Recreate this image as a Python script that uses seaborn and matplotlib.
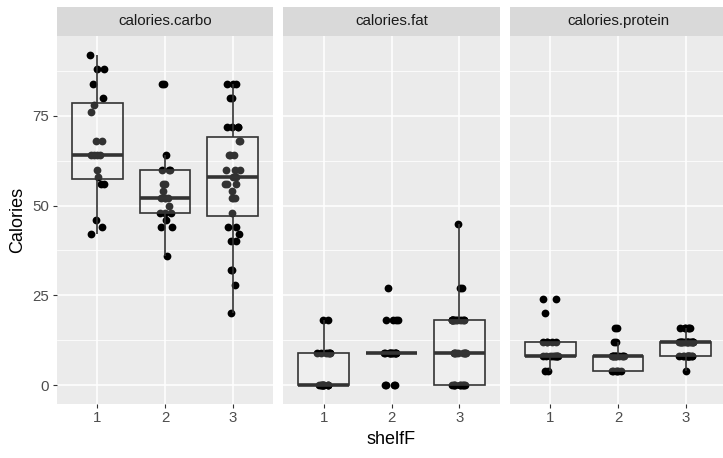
import numpy as np
import pandas as pd
import seaborn as sns
import matplotlib.pyplot as plt
from matplotlib.ticker import FixedLocator

np.random.seed(7)

# ---- data ----
shelves = ["1", "2", "3"]
variables = ["calories.carbo", "calories.fat", "calories.protein"]

carbo_s1 = [42, 44, 46, 56, 56, 58, 60, 64, 64, 64, 64, 68, 68, 76, 78, 80, 84, 88, 88, 92]
carbo_s2 = [36, 44, 44, 46, 48, 48, 48, 50, 52, 52, 52, 52, 54, 56, 56, 60, 60, 60, 64, 84, 84]
carbo_s3 = [20, 28, 32, 32, 40, 40, 42, 44, 44, 48, 52, 52, 52, 54, 56, 56, 56, 58,
            58, 60, 60, 60, 64, 64, 64, 68, 68, 72, 72, 72, 72, 80, 80, 84, 84, 84]

fat_s1 = [0, 0, 0, 0, 0, 0, 0, 0, 0, 0, 0, 9, 9, 9, 9, 9, 9, 9, 18, 18]
fat_s2 = [0, 0, 0, 0, 9, 9, 9, 9, 9, 9, 9, 9, 9, 9, 9, 9, 18, 18, 18, 18, 27]
fat_s3 = [0, 0, 0, 0, 0, 0, 0, 0, 0, 0, 9, 9, 9, 9, 9, 9, 9, 9, 9, 9,
          18, 18, 18, 18, 18, 18, 18, 18, 18, 18, 18, 18, 18, 27, 27, 45]

protein_s1 = [4, 4, 8, 8, 8, 8, 8, 8, 8, 8, 8, 8, 12, 12, 12, 12, 12, 20, 24, 24]
protein_s2 = [4, 4, 4, 4, 4, 4, 8, 8, 8, 8, 8, 8, 8, 8, 8, 8, 8, 12, 12, 16, 16]
protein_s3 = [4, 8, 8, 8, 8, 8, 8, 8, 8, 8, 8, 8, 8, 12, 12, 12, 12, 12, 12, 12,
              12, 12, 12, 12, 12, 12, 12, 12, 12, 12, 16, 16, 16, 16, 16, 16]

y_ticks = [0, 25, 50, 75]
y_minor = [12.5, 37.5, 62.5, 87.5]

series = {
    "calories.carbo": [carbo_s1, carbo_s2, carbo_s3],
    "calories.fat": [fat_s1, fat_s2, fat_s3],
    "calories.protein": [protein_s1, protein_s2, protein_s3],
}
rows = []
for var in variables:
    for shelf, vals in zip(shelves, series[var]):
        for v in vals:
            rows.append({"variable": var, "shelfF": shelf, "Calories": v})
df = pd.DataFrame(rows)

# ---- layout ----
plt.rcParams["font.family"] = ["Liberation Sans", "DejaVu Sans"]
W, H = 723, 458
fig = plt.figure(figsize=(W / 100, H / 100), dpi=100)
fig.patch.set_facecolor("white")

p_left, p_w, p_gap = 56.7, 216.7, 9.8
p_top, p_bot = 35.5, 403.5
s_top = 7.0

for i, var in enumerate(variables):
    left = p_left + i * (p_w + p_gap)
    ax = fig.add_axes([left / W, (H - p_bot) / H, p_w / W, (p_bot - p_top) / H])
    ax.set_facecolor("#EBEBEB")
    sub = df[df["variable"] == var]
    sns.stripplot(data=sub, x="shelfF", y="Calories", order=shelves, color="black",
                  jitter=0.11, size=5.6, linewidth=0, ax=ax, zorder=2)
    sns.boxplot(data=sub, x="shelfF", y="Calories", order=shelves, color="white",
                linecolor="#333333", linewidth=1.2, width=0.75, showfliers=False,
                showcaps=False, medianprops={"linewidth": 2.6}, ax=ax)
    for p in ax.patches:
        p.set_facecolor((1, 1, 1, 0.2))
        p.set_zorder(3)
    for ln in ax.lines:
        ln.set_zorder(3)
    ax.set_xlim(-0.6, 2.6)
    ax.set_ylim(-5.15, 97.4)
    ax.yaxis.set_major_locator(FixedLocator(y_ticks))
    ax.yaxis.set_minor_locator(FixedLocator(y_minor))
    ax.set_axisbelow(True)
    ax.grid(which="major", color="white", linewidth=1.1)
    ax.grid(which="minor", axis="y", color="white", linewidth=0.55)
    for s in ax.spines.values():
        s.set_visible(False)
    ax.tick_params(which="major", length=3.2, width=0.8, color="#333333",
                   labelcolor="#4D4D4D", labelsize=10.8, pad=2.5)
    ax.tick_params(which="minor", length=0)
    ax.set_xlabel("")
    ax.set_ylabel("")
    if i > 0:
        ax.tick_params(axis="y", which="both", left=False, labelleft=False)

    # facet strip
    sax = fig.add_axes([left / W, (H - p_top) / H, p_w / W, (p_top - s_top) / H])
    sax.set_facecolor("#D9D9D9")
    sax.set_xticks([])
    sax.set_yticks([])
    for s in sax.spines.values():
        s.set_visible(False)
    sax.text(0.5, 0.5, var, ha="center", va="center", fontsize=10.9,
             color="#1A1A1A", transform=sax.transAxes)

fig.text((p_left + 3 * p_w + 2 * p_gap + p_left) / 2 / W, 1 - 440 / H, "shelfF",
         ha="center", va="center", fontsize=13, color="black")
fig.text(18 / W, 1 - (p_top + p_bot) / 2 / H, "Calories", rotation=90,
         ha="center", va="center", fontsize=13, color="black")

fig.savefig("out.png", dpi=100)
